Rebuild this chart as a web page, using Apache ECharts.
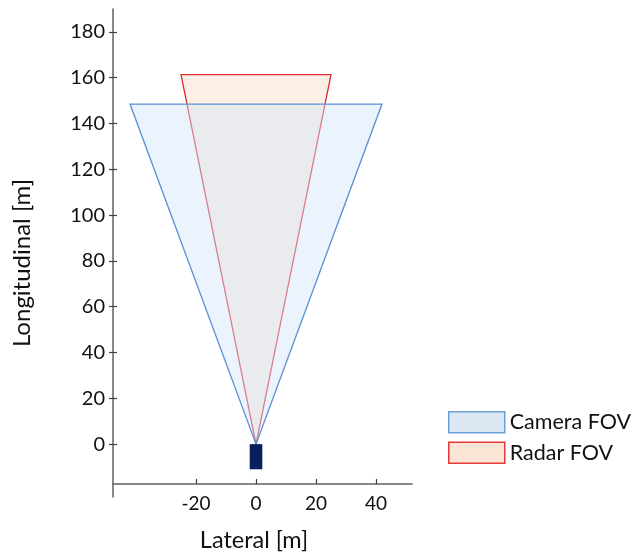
<!DOCTYPE html>
<html><head><meta charset="utf-8">
<script src="https://cdn.jsdelivr.net/npm/echarts@6/dist/echarts.min.js"></script>
<style>html,body{margin:0;padding:0;background:#fff}#c{width:636px;height:554px}</style>
</head><body><div id="c"></div><script>
const xTicks = [-20, 0, 20, 40];
const yTicks = [0, 20, 40, 60, 80, 100, 120, 140, 160, 180];
const seriesNames = ['Camera FOV', 'Radar FOV'];
const xTitle = 'Lateral [m]';
const yTitle = 'Longitudinal [m]';
const cameraX = [0, -42, 42];
const cameraY = [0, 148.5, 148.5];
const radarX = [0, -25, 25];
const radarY = [0, 161.3, 161.3];
const vehicleX = [-2.1, 2.1, 2.1, -2.1];
const vehicleY = [0, 0, -11, -11];

const FONT = 'Lato';
function polySeries(name, xs, ys, style, z) {
  return {
    type: 'custom', name: name, z: z,
    coordinateSystem: 'cartesian2d',
    data: [[xs[0], ys[0]]],
    renderItem: function (params, api) {
      const pts = xs.map(function (x, i) { return api.coord([x, ys[i]]); });
      return { type: 'polygon', shape: { points: pts }, style: style };
    }
  };
}
const chart = echarts.init(document.getElementById('c'), null, { renderer: 'canvas' });
chart.setOption({
  backgroundColor: '#ffffff',
  animation: false,
  textStyle: { fontFamily: FONT },
  grid: { left: 113, top: 9, width: 299, height: 488, containLabel: false, outerBoundsMode: 'none' },
  graphic: [{
    type: 'text', left: 10, top: 179, rotation: Math.PI / 2,
    style: { text: yTitle, font: '24px Lato', fill: '#111' }
  }],
  legend: {
    orient: 'vertical', left: 443, top: 406,
    itemWidth: 56, itemHeight: 21, itemGap: 8,
    icon: 'rect',
    textStyle: { fontFamily: FONT, fontSize: 21.5, color: '#111' },
    data: [
      { name: seriesNames[0], itemStyle: { color: '#dde8f5', borderColor: '#6a9fd6', borderWidth: 1.5 } },
      { name: seriesNames[1], itemStyle: { color: '#fce4d6', borderColor: '#e8383a', borderWidth: 1.5 } }
    ]
  },
  xAxis: {
    type: 'value', min: -47.67, max: 52, offset: -13,
    name: xTitle, nameLocation: 'middle', nameGap: 44,
    nameTextStyle: { fontFamily: FONT, fontSize: 23.5, color: '#111', padding: [0, 17, 0, 0] },
    axisLine: { show: true, onZero: false, lineStyle: { color: '#606060', width: 1.5 } },
    axisTick: { show: true, inside: true, length: 5, customValues: xTicks, lineStyle: { color: '#404040', width: 1.2 } },
    axisLabel: { customValues: xTicks, margin: 10, fontFamily: FONT, fontSize: 19, color: '#111' },
    splitLine: { show: false }
  },
  yAxis: [{
    type: 'value', min: -23.1, max: 190,
    axisLine: { show: true, onZero: false, lineStyle: { color: '#606060', width: 1.5 } },
    axisTick: { show: true, length: 4, customValues: yTicks, lineStyle: { color: '#404040', width: 1.2 } },
    axisLabel: { customValues: yTicks, margin: 8, fontFamily: FONT, fontSize: 20, color: '#111' },
    splitLine: { show: false }
  }, {
    type: 'value', min: -23.1, max: 190, position: 'left',
    axisLine: { show: false, onZero: false },
    axisTick: { show: true, inside: true, length: 4, customValues: yTicks, lineStyle: { color: '#404040', width: 1.2 } },
    axisLabel: { show: false },
    splitLine: { show: false }
  }],
  series: [
    polySeries(seriesNames[1], radarX, radarY, { fill: '#fcf0e6', stroke: '#dc2a33', lineWidth: 1.3 }, 2),
    polySeries(seriesNames[0], cameraX, cameraY, { fill: 'rgba(211,229,249,0.45)', stroke: '#5b8fd4', lineWidth: 1.3 }, 3),
    polySeries('Vehicle', vehicleX, vehicleY, { fill: '#0b1f5c', stroke: null }, 4)
  ]
});
</script></body></html>
